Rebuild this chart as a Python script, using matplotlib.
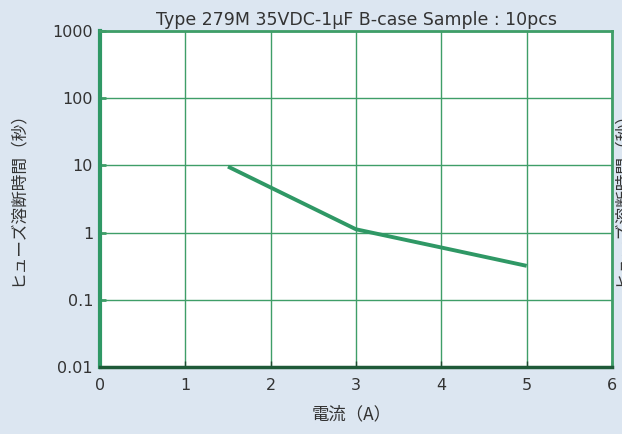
import matplotlib
matplotlib.use('Agg')
import matplotlib.pyplot as plt
from matplotlib.ticker import FixedLocator, FixedFormatter

plt.rcParams['font.family'] = ['DejaVu Sans', 'Noto Sans CJK JP']

current = [1.5, 3.0, 4.0, 5.0]
fuse_time = [9.6, 1.12, 0.60, 0.32]

xticks = [0, 1, 2, 3, 4, 5, 6]
yticks = [0.01, 0.1, 1, 10, 100, 1000]
ylabels = ['0.01', '0.1', '1', '10', '100', '1000']

BG = '#dce6f1'
GRID = '#3f9e68'
LINE = '#2f9865'
TEXT = '#333333'
JP = ['Noto Sans CJK JP', 'DejaVu Sans']

fig = plt.figure(figsize=(6.22, 4.34), dpi=100)
fig.patch.set_facecolor(BG)
ax = fig.add_axes([100 / 622, 1 - 367 / 434, 512 / 622, 336 / 434])
ax.set_facecolor('white')

ax.plot(current, fuse_time, color=LINE, lw=2.8, solid_capstyle='butt')

ax.set_yscale('log')
ax.set_xlim(0, 6)
ax.set_ylim(0.01, 1000)
ax.xaxis.set_major_locator(FixedLocator(xticks))
ax.yaxis.set_major_locator(FixedLocator(yticks))
ax.yaxis.set_major_formatter(FixedFormatter(ylabels))
ax.yaxis.set_minor_locator(FixedLocator([]))
ax.grid(True, color=GRID, lw=1.0)
ax.set_axisbelow(True)

ax.tick_params(axis='y', direction='in', length=4, width=2, color=GRID,
               labelsize=11.5, labelcolor=TEXT, pad=5)
ax.tick_params(axis='x', direction='in', length=4, width=1, color='#1e4a30',
               labelsize=11.5, labelcolor=TEXT, pad=8)

for side in ['top', 'right']:
    ax.spines[side].set_color(GRID)
    ax.spines[side].set_linewidth(2)
ax.spines['left'].set_color(LINE)
ax.spines['left'].set_linewidth(3)
ax.spines['bottom'].set_color('#1e5a38')
ax.spines['bottom'].set_linewidth(2.5)

ax.set_title('Type 279M 35VDC-1\u03bcF B-case Sample : 10pcs',
             fontsize=12.5, color=TEXT, pad=4)
fig.text(352 / 622, 1 - 414 / 434, '電流（A）', fontsize=12.5, color=TEXT,
         family=JP, ha='center', va='center')
fig.text(17 / 622, 1 - 195 / 434, 'ヒューズ溶断時間（秒）', rotation=90,
         fontsize=12, color=TEXT, family=JP, ha='center', va='center')

# duplicate label cut off at the right edge
fig.text(613 / 622, 1 - 195 / 434, 'ヒューズ溶断時間（秒）', rotation=90,
         fontsize=12, color=TEXT, family=JP, ha='left', va='center')

fig.savefig('out.png', dpi=100, facecolor=BG)
